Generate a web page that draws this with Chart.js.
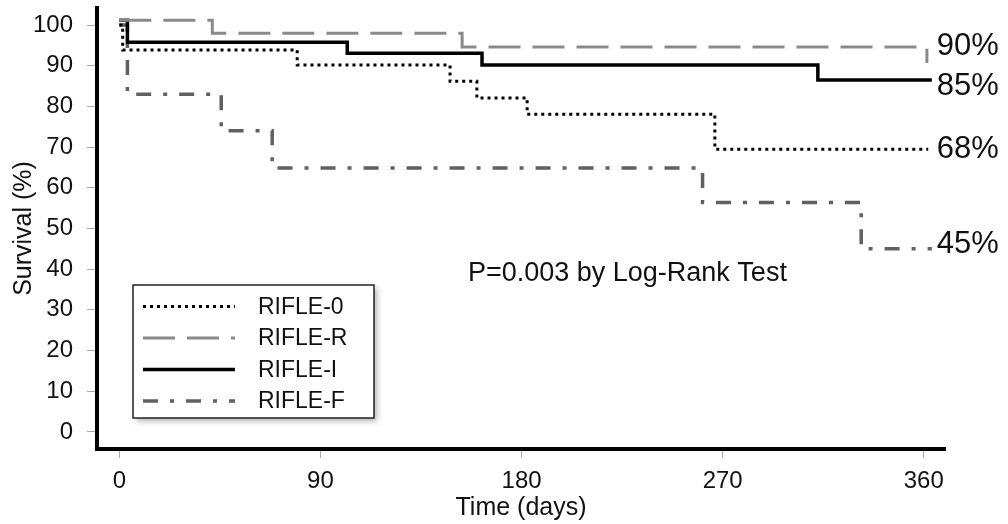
<!DOCTYPE html>
<html>
<head>
<meta charset="utf-8">
<script src="https://cdn.jsdelivr.net/npm/chart.js@4.4.1/dist/chart.umd.min.js"></script>
<style>
  html, body { margin: 0; padding: 0; background: #fff; }
  #wrap { width: 1008px; height: 524px; }
</style>
</head>
<body>
<div id="wrap"><canvas id="km" width="1008" height="524"></canvas></div>
<script>
// Kaplan-Meier curves (event day -> survival %)
const seriesNames = ['RIFLE-0', 'RIFLE-R', 'RIFLE-I', 'RIFLE-F'];

const days0 = [0, 1.5, 79.6, 148, 160, 182.5, 266.5, 362];
const surv0 = [100, 93.9, 90.2, 86.2, 82.1, 78.1, 69.5, 69.5];

const daysR = [0, 41.6, 153.4, 361.4];
const survR = [101.2, 98, 94.6, 90.7];

const daysI = [0, 3.6, 102, 162.3, 312.6, 363.6];
const survI = [101.2, 95.8, 93.1, 90.2, 86.5, 86.5];

const daysF = [0, 3.6, 45.6, 68.4, 261, 332, 363.6];
const survF = [100, 83, 74, 64.9, 56.4, 45, 45];

const xTicks = [0, 90, 180, 270, 360];
const yTicks = [0, 10, 20, 30, 40, 50, 60, 70, 80, 90, 100];

const endLabels = ['68%', '90%', '85%', '45%'];
const pValueText = 'P=0.003 by Log-Rank Test';

const FONT = '"Liberation Sans", Arial, sans-serif';
Chart.defaults.font.family = FONT;
Chart.defaults.color = '#111';

const pts = (d, s) => d.map((v, i) => ({x: v, y: s[i]}));

// legend drawn as a framed box inside the plot
const legendBox = {
    id: 'legendBox',
    afterDraw: (chart) => {
        const {ctx} = chart;
        ctx.save();
        ctx.shadowColor = 'rgba(0,0,0,0.3)';
        ctx.shadowBlur = 6;
        ctx.shadowOffsetX = 3;
        ctx.shadowOffsetY = 3;
        ctx.fillStyle = '#fff';
        ctx.fillRect(133, 285, 241, 133);
        ctx.shadowColor = 'transparent';
        ctx.strokeStyle = '#222';
        ctx.lineWidth = 1.5;
        ctx.strokeRect(133, 285, 241, 133);

        chart.data.datasets.forEach((ds, i) => {
            let yy = 306.5 + i * 31.5;
            ctx.beginPath();
            ctx.setLineDash(ds.borderDash || []);
            ctx.strokeStyle = ds.borderColor;
            ctx.lineWidth = ds.borderWidth;
            ctx.moveTo(143, yy);
            ctx.lineTo(235, yy);
            ctx.stroke();
            ctx.setLineDash([]);
            ctx.fillStyle = '#111';
            ctx.font = '23px ' + FONT;
            ctx.textBaseline = 'middle';
            ctx.textAlign = 'left';
            ctx.fillText(ds.label, 258, yy + 1);
        });
        ctx.restore();
    }
};

// end-of-curve percentages and the p-value note
const notes = {
    id: 'notes',
    afterDraw: (chart) => {
        const {ctx} = chart;
        const {x, y} = chart.scales;
        ctx.save();
        ctx.fillStyle = '#111';
        ctx.textBaseline = 'middle';
        ctx.textAlign = 'left';

        ctx.font = '27px ' + FONT;
        ctx.fillText(pValueText, x.getPixelForValue(156), y.getPixelForValue(39));

        const labelY = [69.5, 94.8, 84.9, 46];
        ctx.font = '31px ' + FONT;
        endLabels.forEach((t, i) => {
            ctx.fillText(t, x.getPixelForValue(365.8), y.getPixelForValue(labelY[i]));
        });
        ctx.restore();
    }
};

let config = {
    type: 'line',
    data: {
        datasets: [
            {
                label: seriesNames[0],
                data: pts(days0, surv0),
                borderColor: '#000',
                borderWidth: 3,
                borderDash: [3, 4]
            },
            {
                label: seriesNames[1],
                data: pts(daysR, survR),
                borderColor: '#8a8a8a',
                borderWidth: 3,
                borderDash: [32, 12]
            },
            {
                label: seriesNames[2],
                data: pts(daysI, survI),
                borderColor: '#000',
                borderWidth: 3.5
            },
            {
                label: seriesNames[3],
                data: pts(daysF, survF),
                borderColor: '#606060',
                borderWidth: 3.5,
                borderDash: [15, 12, 4, 12]
            }
        ]
    },
    options: {
        responsive: false,
        animation: false,
        elements: {
            line: { stepped: 'before', tension: 0, fill: false },
            point: { radius: 0 }
        },
        layout: { padding: { left: 0, right: 63, top: 8, bottom: 0 } },
        scales: {
            x: {
                type: 'linear',
                min: -10,
                max: 369.5,
                afterBuildTicks: (s) => { s.ticks = xTicks.map(v => ({value: v})); },
                afterFit: (s) => { s.height = 75; s.paddingLeft = 0; s.paddingRight = 0; },
                grid: { drawOnChartArea: false, drawTicks: true, tickLength: 9, color: '#aaa', lineWidth: 1 },
                border: { display: true, color: '#000', width: 4 },
                ticks: { font: { size: 24 }, padding: 9, maxRotation: 0, autoSkip: false },
                title: { display: true, text: 'Time (days)', font: { size: 25 }, padding: { top: 0, bottom: 1 } }
            },
            y: {
                min: -4.2,
                max: 104.2,
                afterBuildTicks: (s) => { s.ticks = yTicks.map(v => ({value: v})); },
                afterFit: (s) => { s.width = 97; s.paddingTop = 0; s.paddingBottom = 0; },
                grid: { drawOnChartArea: false, drawTicks: true, tickLength: 10, color: '#aaa', lineWidth: 1 },
                border: { display: true, color: '#000', width: 4 },
                ticks: { font: { size: 24 }, padding: 14, autoSkip: false },
                title: { display: true, text: 'Survival (%)', font: { size: 25 }, padding: { top: 9, bottom: 0 } }
            }
        },
        plugins: {
            legend: { display: false },
            tooltip: { enabled: false }
        }
    },
    plugins: [legendBox, notes]
};

new Chart(document.getElementById('km'), config);
</script>
</body>
</html>
